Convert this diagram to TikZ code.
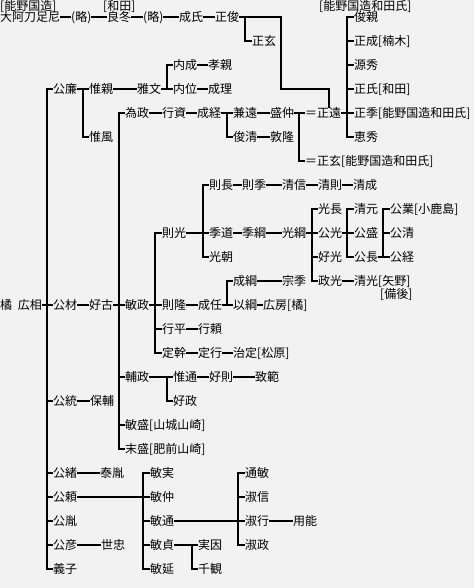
\documentclass[tikz,border=0pt]{standalone}
\usepackage{fontspec}
\newfontfamily\jp{Noto Sans CJK JP}
\definecolor{bgc}{RGB}{242,242,242}
\tikzset{
  t/.style={anchor=west, inner xsep=1pt, inner ysep=0pt, font=\jp\fontsize{12}{13}\selectfont, text height=10.4pt, text depth=1.6pt},
  ln/.style={line width=2.7pt, line cap=rect, black},
}
\newcommand\famly[5]{%
  \coordinate (bus) at (#2,0);
  \draw[ln] (#1.east) -- (#1.east -| bus);
  \draw[ln] (#3.west -| bus) -- (#4.west -| bus);
  \foreach \kid in {#5} {\draw[ln] (\kid.west -| bus) -- (\kid.west);}
}
\newcommand\lk[2]{\draw[ln] (#1.east) -- (#2.west);}
\begin{document}
\begin{tikzpicture}[x=1pt,y=-1pt]
\useasboundingbox (0,0) rectangle (474,588);
\fill[bgc] (0,0) rectangle (474,588);
% headers
\node[t] (h1) at (-1,6) {[能野国造]};
\node[t] (h2) at (102,6) {[和田]};
\node[t] (h3) at (318,6) {[能野国造和田氏]};
% row 0
\node[t] (a1) at (-1,17) {大阿刀足尼};
\node[t] (a2) at (70,17) {(略)};
\node[t] (a3) at (106,17) {良冬};
\node[t] (a4) at (142,17) {(略)};
\node[t] (a5) at (178,17) {成氏};
\node[t] (a6) at (214,17) {正俊};
\node[t] (b1) at (251,41) {正玄};
% Wada branch
\node[t] (w1) at (353,17) {俊親};
\node[t] (w2) at (353,41) {正成[楠木]};
\node[t] (w3) at (353,65) {源秀};
\node[t] (w4) at (353,89) {正氏[和田]};
\node[t] (w5) at (353,113) {正季[能野国造和田氏]};
\node[t] (w6) at (353,137) {恵秀};
% Kimikado
\node[t] (c1) at (52,89) {公廉};
\node[t] (c2) at (88,89) {惟親};
\node[t] (c3) at (88,137) {惟風};
\node[t] (c4) at (136,89) {雅文};
\node[t] (c5) at (172,65) {内成};
\node[t] (c6) at (207,65) {孝親};
\node[t] (c7) at (172,89) {内位};
\node[t] (c8) at (207,89) {成理};
% Tamemasa
\node[t] (d1) at (124,113) {為政};
\node[t] (d2) at (161,113) {行資};
\node[t] (d3) at (196,113) {成経};
\node[t] (d4) at (232,113) {兼遠};
\node[t] (d5) at (269,113) {盛仲};
\node[t] (d6) at (232,137) {俊清};
\node[t] (d7) at (269,137) {敦隆};
\node[t] (d8) at (304,113) {＝正遠};
\node[t] (d9) at (304,161) {＝正玄[能野国造和田氏]};
% Toshimasa
\node[t] (m0) at (124,305) {敏政};
\node[t] (n1) at (161,233) {則光};
\node[t] (n2) at (161,305) {則隆};
\node[t] (n3) at (161,329) {行平};
\node[t] (n4) at (161,353) {定幹};
\node[t] (p1) at (208,185) {則長};
\node[t] (p2) at (208,233) {季道};
\node[t] (p3) at (208,257) {光朝};
\node[t] (q1) at (241,185) {則季};
\node[t] (q2) at (281,185) {清信};
\node[t] (q3) at (317,185) {清則};
\node[t] (q4) at (352,185) {清成};
\node[t] (r1) at (241,233) {季綱};
\node[t] (r2) at (281,233) {光綱};
\node[t] (s1) at (317,209) {光長};
\node[t] (s2) at (317,233) {公光};
\node[t] (s3) at (317,257) {好光};
\node[t] (s4) at (317,281) {政光};
\node[t] (u1) at (353,209) {清元};
\node[t] (u2) at (353,233) {公盛};
\node[t] (u3) at (353,257) {公長};
\node[t] (v1) at (389,209) {公業[小鹿島]};
\node[t] (v2) at (389,233) {公清};
\node[t] (v3) at (389,257) {公経};
\node[t] (kk) at (353,281) {清光[矢野]};
\node[t] (kb) at (379,294) {[備後]};
\node[t] (g1) at (197,305) {成任};
\node[t] (g2) at (232,281) {成綱};
\node[t] (g3) at (281,281) {宗季};
\node[t] (g4) at (232,305) {以綱};
\node[t] (g5) at (262,305) {広房[橘]};
\node[t] (g6) at (197,329) {行頼};
\node[t] (g7) at (197,353) {定行};
\node[t] (g8) at (232,353) {治定[松原]};
% Sukemasa etc.
\node[t] (e1) at (124,377) {輔政};
\node[t] (e2) at (172,377) {惟通};
\node[t] (e3) at (172,401) {好政};
\node[t] (e4) at (208,377) {好則};
\node[t] (e5) at (254,377) {致範};
\node[t] (e6) at (124,425) {敏盛[山城山崎]};
\node[t] (e7) at (124,449) {末盛[肥前山崎]};
% Hiromi and sons
\node[t] (k0) at (-1,305) {橘\hspace{3pt} 広相};
\node[t] (k1) at (52,305) {公材};
\node[t] (k2) at (88,305) {好古};
\node[t] (k3) at (52,401) {公統};
\node[t] (k4) at (89,401) {保輔};
\node[t] (k5) at (52,473) {公緒};
\node[t] (k6) at (99,473) {泰胤};
\node[t] (k7) at (52,497) {公頼};
\node[t] (k8) at (52,521) {公胤};
\node[t] (k9) at (52,545) {公彦};
\node[t] (k10) at (100,545) {世忠};
\node[t] (k11) at (52,569) {義子};
% Kimiyori line
\node[t] (f1) at (149,473) {敏実};
\node[t] (f2) at (149,497) {敏仲};
\node[t] (f3) at (149,521) {敏通};
\node[t] (f4) at (149,545) {敏貞};
\node[t] (f5) at (149,569) {敏延};
\node[t] (x1) at (244,473) {通敏};
\node[t] (x2) at (244,497) {淑信};
\node[t] (x3) at (244,521) {淑行};
\node[t] (x4) at (244,545) {淑政};
\node[t] (x5) at (292,521) {用能};
\node[t] (y1) at (197,545) {実因};
\node[t] (y2) at (197,569) {千観};
% connectors: chains
\lk{a1}{a2}\lk{a2}{a3}\lk{a3}{a4}\lk{a4}{a5}
\lk{a5}{a6}
\lk{c2}{c4}\lk{c5}{c6}\lk{c7}{c8}
\lk{d1}{d2}\lk{d2}{d3}\lk{d4}{d5}\lk{d6}{d7}
\lk{p1}{q1}\lk{q1}{q2}\lk{q2}{q3}\lk{q3}{q4}
\lk{p2}{r1}\lk{r1}{r2}
\lk{s4}{kk}
\lk{n2}{g1}\lk{g2}{g3}\lk{g4}{g5}
\lk{n3}{g6}\lk{n4}{g7}\lk{g7}{g8}
\lk{e2}{e4}\lk{e4}{e5}
\lk{k1}{k2}\lk{k3}{k4}\lk{k5}{k6}\lk{k9}{k10}
\lk{x3}{x5}
% Masatoshi special lines
\coordinate (j0) at (245,17);
\coordinate (j1) at (281,89);
\coordinate (j2) at (329,89);
\draw[ln] (a6.east) -| (j1) -- (j2) -- (j2 |- d8.north);
\draw[ln] (j0) |- (b1.west);
% families
\famly{d8}{347}{w1}{w6}{w1,w2,w3,w4,w5,w6}
\famly{d5}{299}{d8}{d9}{d8,d9}
\famly{d3}{227}{d4}{d6}{d4,d6}
\famly{c1}{83}{c2}{c3}{c2,c3}
\famly{c4}{167}{c5}{c7}{c5,c7}
\famly{k0}{47}{c1}{k11}{c1,k1,k3,k5,k7,k8,k9,k11}
\famly{k2}{119}{d1}{e7}{d1,m0,e1,e6,e7}
\famly{m0}{155}{n1}{n4}{n1,n2,n3,n4}
\famly{n1}{203}{p1}{p3}{p1,p2,p3}
\famly{r2}{312}{s1}{s4}{s1,s2,s3,s4}
\famly{s2}{347}{u1}{u3}{u1,u2,u3}
\famly{u3}{383}{v1}{v3}{v1,v2,v3}
\famly{g1}{227}{g2}{g4}{g2,g4}
\famly{e1}{167}{e2}{e3}{e2,e3}
\famly{k7}{143}{f1}{f5}{f1,f2,f3,f4,f5}
\famly{f3}{238}{x1}{x4}{x1,x2,x3,x4}
\famly{f4}{192}{y1}{y2}{y1,y2}
\end{tikzpicture}
\end{document}
